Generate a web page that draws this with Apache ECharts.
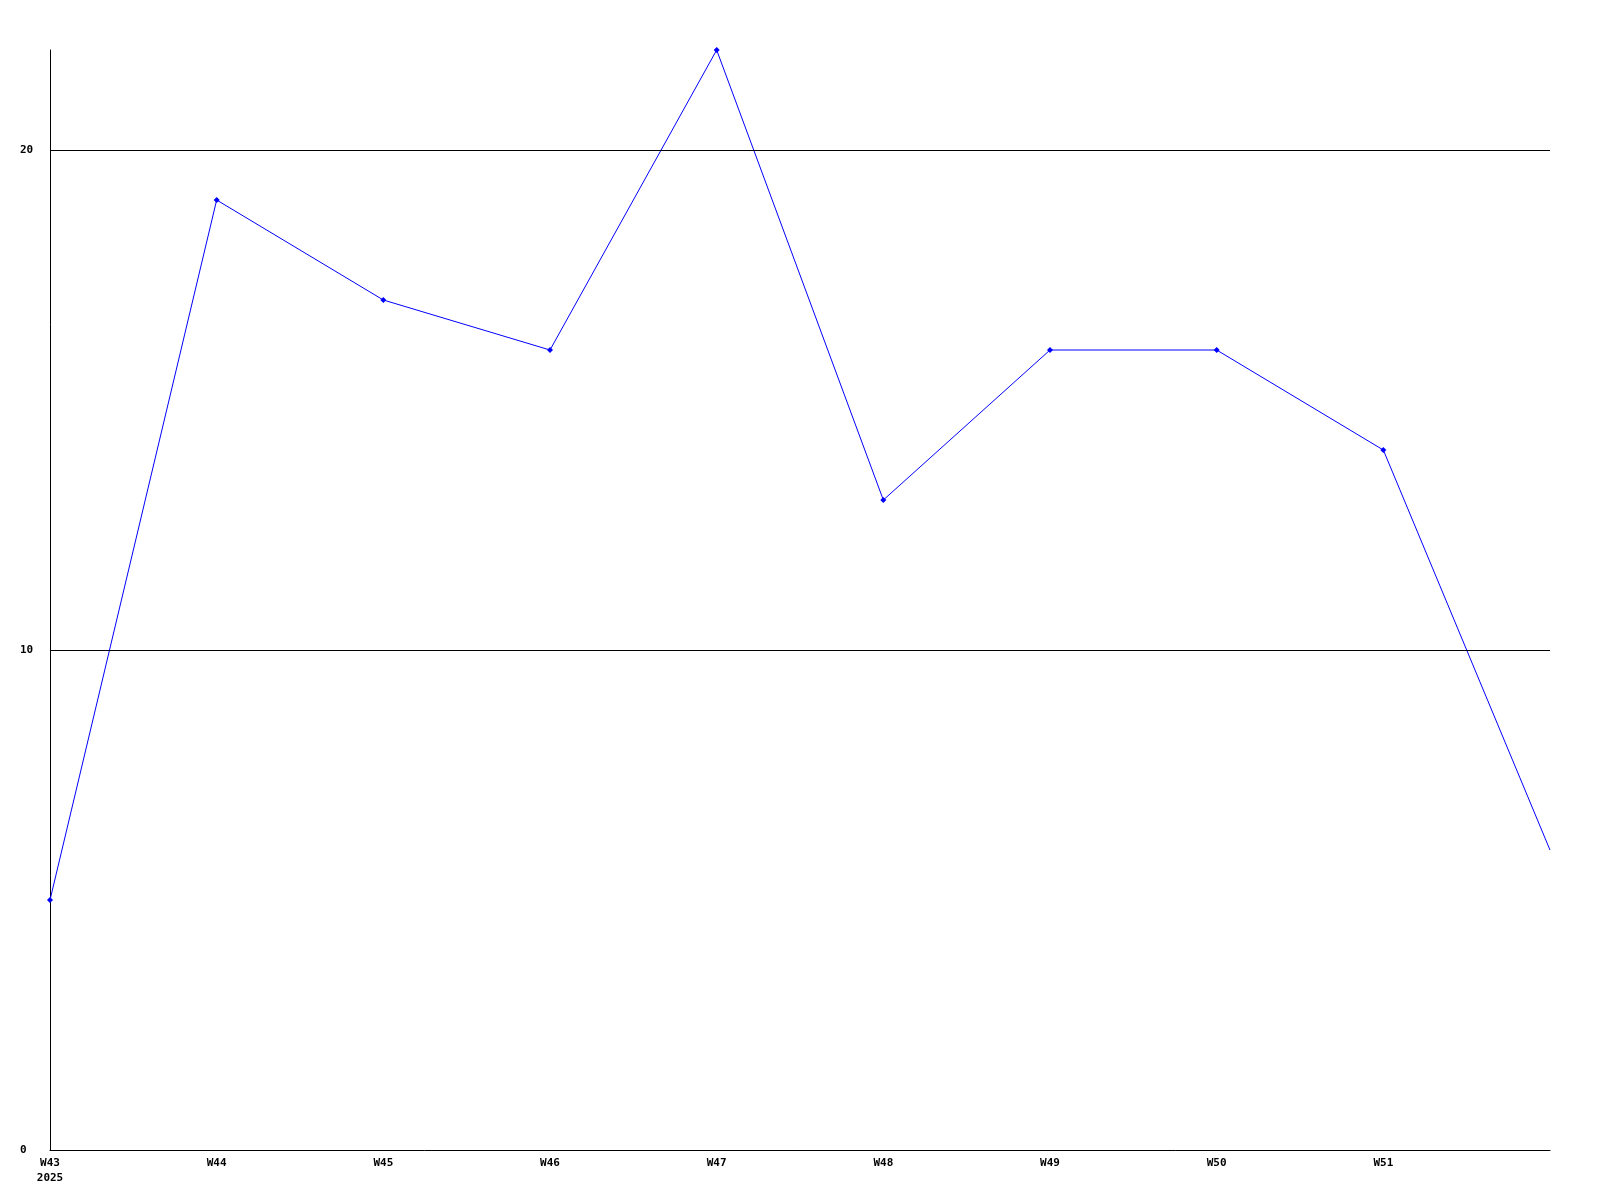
<!DOCTYPE html>
<html><head><meta charset="utf-8">
<script src="https://cdn.jsdelivr.net/npm/echarts@6/dist/echarts.min.js"></script>
<style>html,body{margin:0;padding:0;background:#fff}#c{width:1600px;height:1200px}</style>
</head><body><div id="c"></div>
<script>
const weeks = ['W43','W44','W45','W46','W47','W48','W49','W50','W51','W52'];
const values = [5, 19, 17, 16, 22, 13, 16, 16, 14, 6];
const yearLabel = '2025';
const yTicks = [0, 10, 20];
const yMax = 22;

const chart = echarts.init(document.getElementById('c'), null, {renderer:'canvas'});
const font = {fontFamily:'DejaVu Sans Mono', fontWeight:'bold', fontSize:11, color:'#000'};
chart.setOption({
  animation:false,
  backgroundColor:'#fff',
  grid:{left:50,right:50,top:50,bottom:50,containLabel:false},
  xAxis:{
    type:'category', data:weeks, boundaryGap:false,
    axisLine:{show:true,lineStyle:{color:'#000',width:1}},
    axisTick:{show:false},
    splitLine:{show:false},
    axisLabel:Object.assign({}, font, {
      margin:6, lineHeight:15, showMaxLabel:false, interval:0,
      formatter:(v,i)=> i===0 ? v+'\n'+yearLabel : (i===weeks.length-1 ? '' : v)
    })
  },
  yAxis:{
    type:'value', min:0, max:yMax, interval:10,
    axisLine:{show:true,lineStyle:{color:'#000',width:1}},
    axisTick:{show:false},
    splitLine:{show:false},
    axisLabel:Object.assign({}, font, {
      align:'left', margin:30,
      formatter:(v)=> yTicks.includes(v) ? String(v) : ''
    })
  },
  series:[{
    type:'line', data:values.map((v,i)=> i===values.length-1 ? {value:v, symbol:'none'} : v),
    symbol:'diamond', symbolSize:6, showSymbol:true,
    lineStyle:{color:'#0000ff',width:1},
    itemStyle:{color:'#0000ff'},
    markLine:{
      silent:true, symbol:'none', label:{show:false},
      lineStyle:{color:'#000',width:1,type:'solid'},
      data:yTicks.filter(t=>t>0).map(t=>({yAxis:t}))
    }
  }]
});
</script></body></html>
